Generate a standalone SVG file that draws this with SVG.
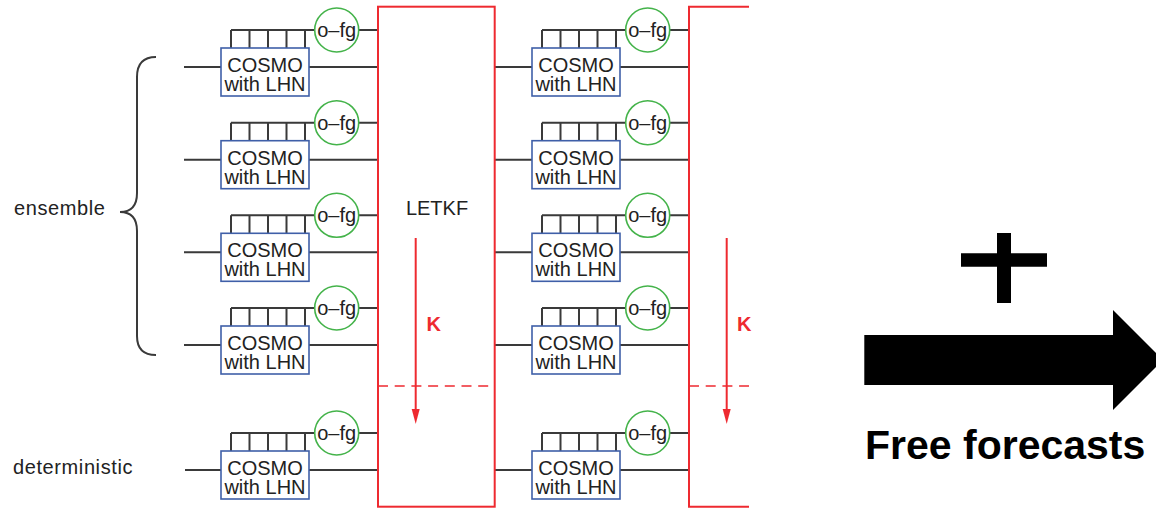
<svg xmlns="http://www.w3.org/2000/svg" width="1156" height="510" viewBox="0 0 1156 510">
<defs>
<style>
.ln{stroke:#3a3a3a;stroke-width:2;fill:none}
.box{fill:#fff;stroke:#3f5fa8;stroke-width:1.6}
.cir{fill:#fff;stroke:#44b34a;stroke-width:1.6}
.red{stroke:#ee2a30;stroke-width:2;fill:none}
.dash{stroke:#ee2a30;stroke-width:1.6;fill:none;stroke-dasharray:10 6.7}
.t{font-family:"Liberation Sans",Arial,sans-serif;font-size:20px;fill:#222}
.tc{text-anchor:middle}
.k{font-family:"Liberation Sans",Arial,sans-serif;font-size:20px;font-weight:bold;fill:#ee2a30}
</style>
<g id="unit">
<path class="ln" d="M231,-37 H314.7 M231,-37 V-19 M249.5,-37 V-19 M268,-37 V-19 M286.5,-37 V-19 M305,-37 V-19 M358.7,-37 H378 M309,0 H378"/>
<rect class="box" x="221" y="-19" width="88" height="48"/>
<text class="t tc" x="265" y="5">COSMO</text>
<text class="t tc" x="265" y="24">with LHN</text>
<circle class="cir" cx="336.7" cy="-37" r="22"/>
<text class="t tc" x="336.7" y="-30">o–fg</text>
</g>
</defs>
<rect width="1156" height="510" fill="#fff"/>
<g id="connectors">
<path class="ln" d="M184,67 H221 M184,159.7 H221 M184,252.3 H221 M184,345 H221 M185,470 H221"/>
<path class="ln" d="M495,67 H532 M495,159.7 H532 M495,252.3 H532 M495,345 H532 M495,470 H532"/>
<path class="red" d="M415.7,238 V410"/>
<path d="M411.7,409 H419.7 L415.7,424 Z" fill="#ee2a30"/>
<path class="red" d="M726.7,238 V410"/>
<path d="M722.7,409 H730.7 L726.7,424 Z" fill="#ee2a30"/>
</g>
<g id="ensemble-label">
<path class="ln" stroke-width="1.6" d="M156,57 Q137,57 137,77 V193 Q137,212 120,212 Q137,212 137,231 V336 Q137,355 156,355"/>
<text class="t" x="14" y="215" letter-spacing="0.6">ensemble</text>
</g>
<g id="deterministic-label">
<text class="t" x="13" y="474" letter-spacing="0.6">deterministic</text>
</g>
<g id="col1-row1"><use href="#unit" y="67"/></g>
<g id="col1-row2"><use href="#unit" y="159.7"/></g>
<g id="col1-row3"><use href="#unit" y="252.3"/></g>
<g id="col1-row4"><use href="#unit" y="345"/></g>
<g id="col1-det"><use href="#unit" y="470"/></g>
<g id="col2-row1"><use href="#unit" x="311" y="67"/></g>
<g id="col2-row2"><use href="#unit" x="311" y="159.7"/></g>
<g id="col2-row3"><use href="#unit" x="311" y="252.3"/></g>
<g id="col2-row4"><use href="#unit" x="311" y="345"/></g>
<g id="col2-det"><use href="#unit" x="311" y="470"/></g>
<g id="letkf1">
<rect class="red" x="378" y="6.7" width="116.7" height="500"/>
<path class="dash" d="M378,386 H495"/>
<text class="t tc" x="437" y="215">LETKF</text>
<text class="k" x="426.5" y="331">K</text>
</g>
<g id="letkf2">
<path class="red" d="M749,6.7 H689 V506.7 H749"/>
<path class="dash" d="M689,386 H749"/>
<text class="k" x="737" y="331">K</text>
</g>
<g id="free-forecasts">
<path d="M961,253.3 H997 V233 H1011 V253.3 H1047 V266.7 H1011 V303 H997 V266.7 H961 Z" fill="#000"/>
<path d="M864.3,335 H1113 V310 L1163,360 L1113,410 V385 H864.3 Z" fill="#000"/>
<text x="865" y="459" font-family="'Liberation Sans',Arial,sans-serif" font-size="41" font-weight="bold" fill="#000">Free forecasts</text>
</g>
</svg>
